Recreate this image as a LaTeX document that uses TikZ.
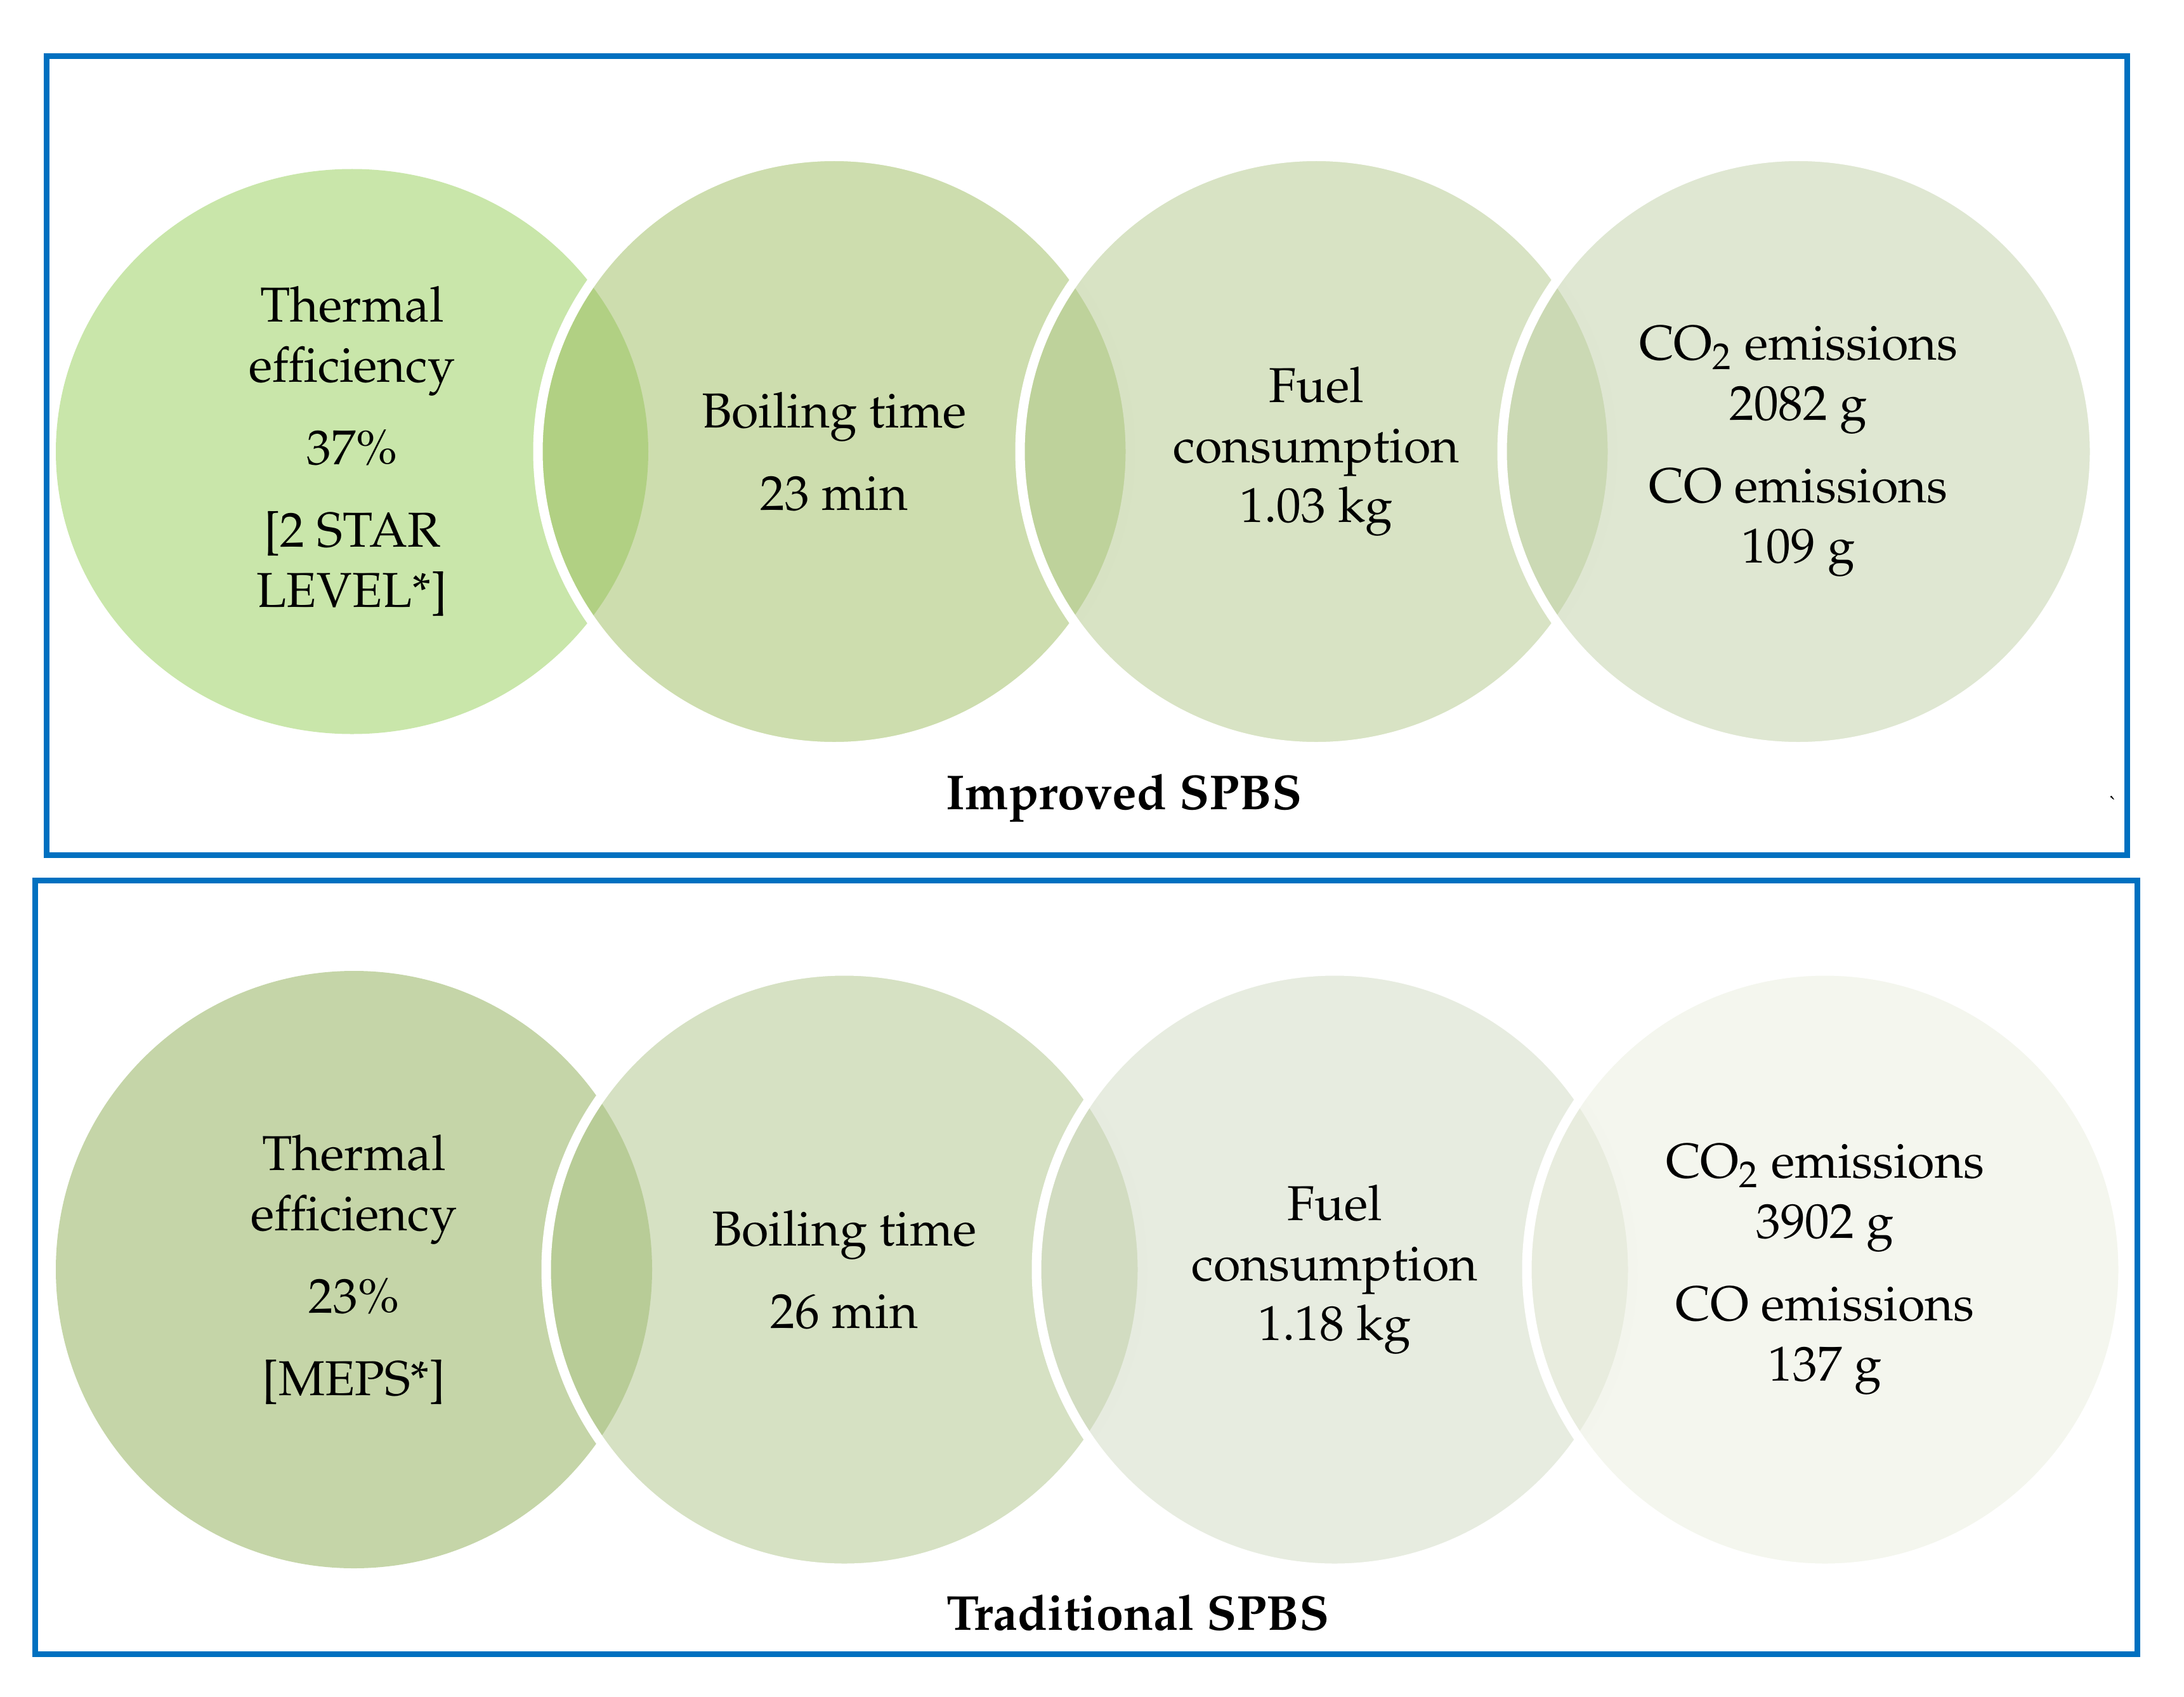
\documentclass[tikz,border=0pt]{standalone}
\usepackage[T1]{fontenc}
\usepackage{mathpazo}
\usetikzlibrary{shapes.geometric}

\definecolor{frameblue}{RGB}{0,112,192}
\definecolor{impA}{RGB}{147,205,85}
\definecolor{impB}{RGB}{155,187,93}
\definecolor{impC}{RGB}{177,199,137}
\definecolor{impD}{RGB}{191,207,165}
\definecolor{tradA}{RGB}{139,171,81}
\definecolor{tradB}{RGB}{173,195,135}
\definecolor{tradC}{RGB}{207,217,193}
\definecolor{tradD}{RGB}{233,237,221}

\tikzset{
    frame/.style = {
        draw = frameblue,
        line width = 0.09cm,
        },
    set/.style = {
        ellipse,
        inner sep = 0pt,
        fill opacity = 0.5,
        text opacity = 1,
        align = center,
        font = \fontsize{22}{27}\selectfont,
        },
    ring/.style = {
        draw = white,
        line width = 0.15cm,
        },
    top set/.style = {
        minimum width = 9.34cm,
        minimum height = 9.31cm,
        },
    bottom set/.style = {
        minimum width = 9.40cm,
        minimum height = 9.42cm,
        },
    caption/.style = {
        font = \fontsize{22}{27}\selectfont\bfseries,
        },
}

\begin{document}
\begin{tikzpicture}
    \useasboundingbox (0,0) rectangle (34.43,-26.76);

    % improved stove
    \draw[frame] (0.73,-0.89) rectangle (33.53,-13.48);
    \node[set, fill=impA, minimum width=9.34cm, minimum height=8.91cm] (iEff) at (5.55,-7.12)
        {Thermal\\efficiency\\[10pt]37\%\\[10pt]{[}2 STAR\\LEVEL*{]}};
    \node[set, top set, ring, fill=impB] (iBoil) at (13.15,-7.12) {Boiling time\\[10pt]23 min};
    \node[set, top set, ring, fill=impC] (iFuel) at (20.75,-7.12) {Fuel\\consumption\\1.03 kg};
    \node[set, top set, ring, fill=impD] (iEmis) at (28.35,-7.12)
        {CO\textsubscript{2} emissions\\2082 g\\[10pt]CO emissions\\109 g};
    \node[caption] (iTitle) at (17.72,-12.58) {Improved SPBS};
    \node[font=\small] (iMark) at (33.33,-12.67) {\textasciigrave};

    % traditional stove
    \draw[frame] (0.55,-13.88) rectangle (33.69,-26.08);
    \node[set, bottom set, fill=tradA] (tEff) at (5.58,-20.02)
        {Thermal\\efficiency\\[10pt]23\%\\[10pt]{[}MEPS*{]}};
    \node[set, bottom set, ring, fill=tradB] (tBoil) at (13.31,-20.02) {Boiling time\\[10pt]26 min};
    \node[set, bottom set, ring, fill=tradC] (tFuel) at (21.04,-20.02) {Fuel\\consumption\\1.18 kg};
    \node[set, bottom set, ring, fill=tradD] (tEmis) at (28.77,-20.02)
        {CO\textsubscript{2} emissions\\3902 g\\[10pt]CO emissions\\137 g};
    \node[caption] (tTitle) at (17.94,-25.43) {Traditional SPBS};
\end{tikzpicture}
\end{document}
